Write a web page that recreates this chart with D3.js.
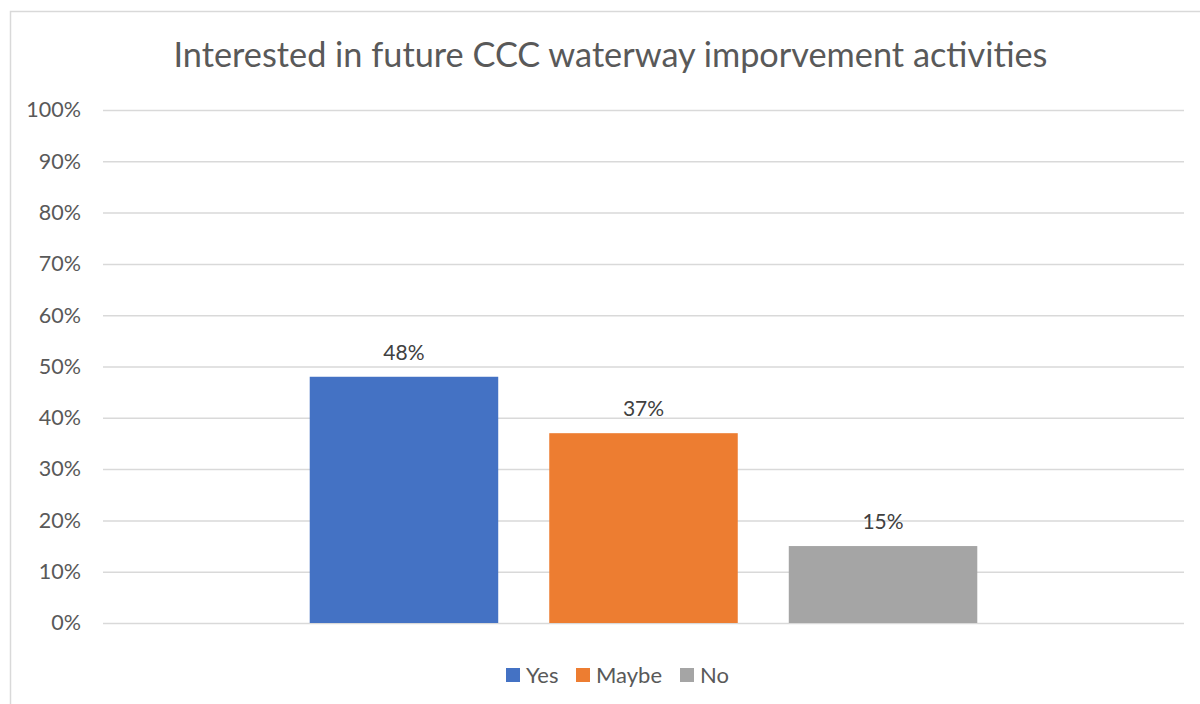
<!DOCTYPE html>
<html>
<head>
<meta charset="utf-8">
<script src="https://cdn.jsdelivr.net/npm/d3@7"></script>
<style>
  html, body { margin: 0; padding: 0; background: #fff; }
  svg { display: block; font-family: Lato, "Open Sans", sans-serif; }
</style>
</head>
<body>
<svg id="chart" width="1200" height="704"></svg>
<script>
// Survey answers, one series per response
const categories = ["Yes", "Maybe", "No"];
const values = [0.48, 0.37, 0.15];
const colors = ["#4472C4", "#ED7D31", "#A5A5A5"];
const tickValues = [0, 0.1, 0.2, 0.3, 0.4, 0.5, 0.6, 0.7, 0.8, 0.9, 1.0];
const title = "Interested in future CCC waterway imporvement activities";

const svg = d3.select("#chart");
const textColor = "#595959";
const gridColor = "#d9d9d9";

// chart frame (continues past the right and bottom edges)
svg.append("rect")
  .attr("x", 10.5).attr("y", 11.5)
  .attr("width", 1300).attr("height", 800)
  .attr("fill", "#fff")
  .attr("stroke", gridColor).attr("stroke-width", 1.5);

const plot = { left: 103, right: 1184, top: 110, bottom: 623 };

const y = d3.scaleLinear().domain([0, 1]).range([plot.bottom, plot.top]);
const x = d3.scaleBand()
  .domain(categories)
  .range([plot.left, plot.right])
  .paddingInner(0.213)
  .paddingOuter(0.863);

// horizontal gridlines + percent labels
const yAxis = d3.axisLeft(y)
  .tickValues(tickValues)
  .tickFormat(d3.format(".0%"))
  .tickSize(-(plot.right - plot.left))
  .tickPadding(22);

const gy = svg.append("g")
  .attr("transform", `translate(${plot.left},0)`)
  .call(yAxis);
gy.select(".domain").remove();
gy.selectAll(".tick line")
  .attr("stroke", gridColor).attr("stroke-width", 1.5);
gy.selectAll(".tick text")
  .attr("fill", textColor)
  .attr("font-size", 21.5)
  .attr("font-family", "Lato, sans-serif");

// bars
svg.append("g").selectAll("rect")
  .data(categories)
  .join("rect")
  .attr("x", d => x(d))
  .attr("width", x.bandwidth())
  .attr("y", (d, i) => y(values[i]))
  .attr("height", (d, i) => y(0) - y(values[i]))
  .attr("fill", (d, i) => colors[i]);

// value labels above bars
svg.append("g").selectAll("text")
  .data(categories)
  .join("text")
  .attr("x", d => x(d) + x.bandwidth() / 2)
  .attr("y", (d, i) => y(values[i]) - 17)
  .attr("text-anchor", "middle")
  .attr("fill", "#404040")
  .attr("font-size", 21)
  .text((d, i) => d3.format(".0%")(values[i]));

// title
svg.append("text")
  .attr("x", 610.5).attr("y", 67)
  .attr("text-anchor", "middle")
  .attr("fill", textColor)
  .attr("font-size", 34.3)
  .text(title);

// legend
const legendX = [506, 576, 680];
const legend = svg.append("g").selectAll("g")
  .data(categories)
  .join("g")
  .attr("transform", (d, i) => `translate(${legendX[i]},668)`);
legend.append("rect")
  .attr("width", 14).attr("height", 14)
  .attr("fill", (d, i) => colors[i]);
legend.append("text")
  .attr("x", 20).attr("y", 14.5)
  .attr("fill", textColor)
  .attr("font-size", 22)
  .text(d => d);
</script>
</body>
</html>
